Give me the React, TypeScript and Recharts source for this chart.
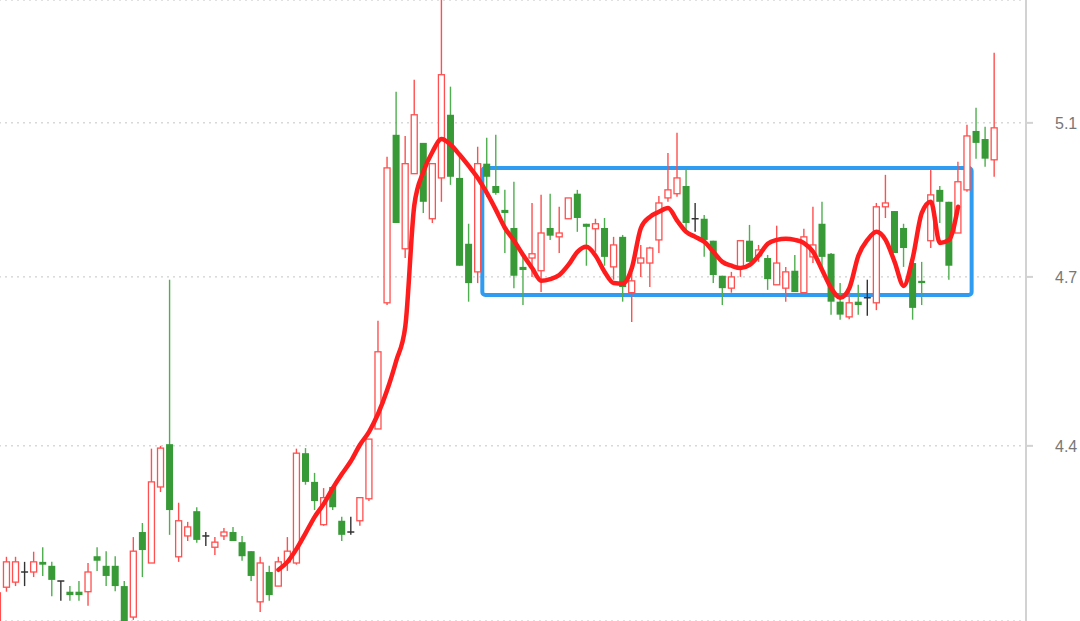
import React from 'react';
import { ComposedChart, Bar, Line, XAxis, YAxis, CartesianGrid, ReferenceArea } from 'recharts';

// Candles, first one (index -1) is cut at the left edge.
const FIRST_INDEX = -1;
const OPEN = [
  4.073, 4.149, 4.158, 4.176, 4.176, 4.194, 4.187, 4.160, 4.141, 4.141,
  4.141, 4.204, 4.187, 4.187, 4.151, 4.096, 4.247, 4.192, 4.327, 4.403,
  4.203, 4.240, 4.284, 4.240, 4.220, 4.240, 4.247, 4.229, 4.213, 4.123,
  4.176, 4.151, 4.194, 4.192, 4.387, 4.336, 4.260, 4.327, 4.267, 4.247,
  4.267, 4.306, 4.430, 4.654, 5.069, 4.773, 4.968, 5.048, 4.851, 4.957,
  5.121, 4.957, 4.786, 4.713, 4.994, 4.936, 4.874, 4.827, 4.726, 4.749,
  4.716, 4.827, 4.804, 4.851, 4.916, 4.838, 4.825, 4.827, 4.726, 4.804,
  4.672, 4.736, 4.736, 4.796, 4.905, 4.916, 4.936, 4.851, 4.851, 4.794,
  4.703, 4.680, 4.726, 4.794, 4.755, 4.749, 4.686, 4.680, 4.716, 4.672,
  4.752, 4.838, 4.760, 4.656, 4.629, 4.656, 4.663, 4.654, 4.882, 4.871,
  4.827, 4.736, 4.693, 4.794, 4.926, 4.895, 4.814, 4.926, 5.079, 5.058,
  5.004,
];
const HIGH = [
  4.148, 4.203, 4.203, 4.194, 4.212, 4.220, 4.194, 4.160, 4.151, 4.160,
  4.192, 4.220, 4.213, 4.204, 4.160, 4.238, 4.263, 4.395, 4.400, 4.695,
  4.299, 4.265, 4.291, 4.247, 4.238, 4.254, 4.256, 4.240, 4.213, 4.203,
  4.187, 4.203, 4.238, 4.395, 4.396, 4.352, 4.325, 4.327, 4.274, 4.274,
  4.308, 4.412, 4.622, 5.012, 5.181, 5.066, 5.212, 5.048, 4.994, 5.430,
  5.194, 5.012, 4.838, 5.038, 5.061, 5.069, 4.926, 4.947, 4.752, 4.892,
  4.913, 4.916, 4.882, 4.905, 4.926, 4.838, 4.851, 4.853, 4.804, 4.809,
  4.710, 4.783, 4.778, 4.910, 5.022, 5.074, 4.981, 4.892, 4.861, 4.794,
  4.703, 4.713, 4.794, 4.835, 4.783, 4.757, 4.833, 4.726, 4.757, 4.825,
  4.882, 4.895, 4.762, 4.689, 4.673, 4.686, 4.695, 4.892, 4.965, 4.871,
  4.838, 4.739, 4.739, 4.978, 4.936, 4.895, 4.999, 5.095, 5.139, 5.090,
  5.282,
];
const LOW = [
  4.055, 4.141, 4.151, 4.151, 4.167, 4.169, 4.133, 4.125, 4.125, 4.125,
  4.116, 4.178, 4.151, 4.142, 4.073, 4.091, 4.167, 4.192, 4.318, 4.242,
  4.194, 4.231, 4.228, 4.222, 4.206, 4.233, 4.231, 4.196, 4.160, 4.105,
  4.125, 4.151, 4.178, 4.189, 4.331, 4.286, 4.258, 4.286, 4.231, 4.242,
  4.258, 4.302, 4.430, 4.650, 4.840, 4.749, 4.968, 4.866, 4.840, 4.895,
  4.939, 4.729, 4.656, 4.689, 4.908, 4.913, 4.762, 4.680, 4.650, 4.700,
  4.673, 4.796, 4.762, 4.851, 4.817, 4.729, 4.765, 4.729, 4.695, 4.656,
  4.620, 4.700, 4.682, 4.762, 4.895, 4.908, 4.822, 4.817, 4.752, 4.689,
  4.650, 4.672, 4.700, 4.739, 4.739, 4.677, 4.686, 4.656, 4.673, 4.672,
  4.736, 4.726, 4.633, 4.624, 4.625, 4.633, 4.631, 4.641, 4.853, 4.762,
  4.726, 4.624, 4.650, 4.775, 4.840, 4.695, 4.814, 4.921, 5.007, 4.986,
  4.960,
];
const CLOSE = [
  4.139, 4.194, 4.194, 4.176, 4.194, 4.189, 4.162, 4.160, 4.135, 4.135,
  4.176, 4.196, 4.169, 4.151, 4.082, 4.213, 4.215, 4.336, 4.396, 4.286,
  4.267, 4.256, 4.233, 4.240, 4.229, 4.247, 4.231, 4.204, 4.169, 4.192,
  4.135, 4.194, 4.213, 4.387, 4.336, 4.302, 4.308, 4.291, 4.242, 4.247,
  4.308, 4.412, 4.567, 4.983, 4.840, 4.994, 5.121, 4.895, 4.994, 5.225,
  4.960, 4.729, 4.689, 4.994, 4.960, 4.918, 4.866, 4.703, 4.718, 4.760,
  4.814, 4.807, 4.814, 4.905, 4.853, 4.830, 4.838, 4.752, 4.783, 4.682,
  4.693, 4.749, 4.775, 4.892, 4.926, 4.957, 4.840, 4.851, 4.796, 4.705,
  4.680, 4.700, 4.794, 4.739, 4.770, 4.696, 4.736, 4.713, 4.673, 4.804,
  4.783, 4.752, 4.656, 4.633, 4.654, 4.650, 4.663, 4.882, 4.892, 4.762,
  4.775, 4.645, 4.689, 4.913, 4.895, 4.729, 4.947, 5.066, 5.048, 5.007,
  5.087,
];

// Hand-drawn red trend curve, from candle index 30 to 105.
const CURVE_START = 30;
const CURVE = [
  4.180, 4.194, 4.217, 4.245, 4.274, 4.297, 4.325, 4.350, 4.373, 4.402,
  4.425, 4.457, 4.499, 4.551, 4.612, 4.887, 4.973, 5.025, 5.058, 5.043,
  5.017, 4.988, 4.957, 4.918, 4.874, 4.827, 4.794, 4.757, 4.723, 4.693,
  4.696, 4.705, 4.731, 4.765, 4.778, 4.755, 4.713, 4.689, 4.688, 4.723,
  4.827, 4.856, 4.869, 4.879, 4.846, 4.817, 4.804, 4.791, 4.765, 4.739,
  4.729, 4.723, 4.731, 4.755, 4.786, 4.796, 4.799, 4.796, 4.788, 4.765,
  4.718, 4.680, 4.663, 4.680, 4.755, 4.796, 4.817, 4.796, 4.739, 4.684,
  4.749, 4.866, 4.895, 4.788, 4.796, 4.882,
];

const TRAILING_EMPTY = 3;
const Y_TICKS = [4.4, 4.7, 5.1];
const Y_DOMAIN: [number, number] = [4.089, 5.419];

// Consolidation box
const BOX_FROM = 53;
const BOX_TO = 106;
const BOX_LOW = 4.668;
const BOX_HIGH = 4.983;

// The source's price axis is compressed above 4.7 relative to below it.
const KNEE = 4.7;
const LOW_STRETCH = 563 / 385;
const warp = (v: number) => (v >= KNEE ? v : KNEE + (v - KNEE) * LOW_STRETCH);
const unwarp = (u: number) => (u >= KNEE ? u : KNEE + (u - KNEE) / LOW_STRETCH);

function warpedScale(): any {
  let dom: number[] = [0, 1];
  let rng: number[] = [0, 1];
  const s: any = (v: any) => {
    const u0 = warp(dom[0]);
    const u1 = warp(dom[dom.length - 1]);
    const r0 = rng[0];
    const r1 = rng[rng.length - 1];
    return r0 + ((warp(Number(v)) - u0) / (u1 - u0)) * (r1 - r0);
  };
  s.domain = (...args: any[]) => {
    if (!args.length) return dom.slice();
    dom = Array.from(args[0] as any[], Number);
    return s;
  };
  s.range = (...args: any[]) => {
    if (!args.length) return rng.slice();
    rng = Array.from(args[0] as any[], Number);
    return s;
  };
  s.invert = (p: number) => {
    const u0 = warp(dom[0]);
    const u1 = warp(dom[dom.length - 1]);
    const r0 = rng[0];
    const r1 = rng[rng.length - 1];
    return unwarp(u0 + ((p - r0) / (r1 - r0)) * (u1 - u0));
  };
  s.copy = () => warpedScale().domain(dom).range(rng);
  s.ticks = () => Y_TICKS.slice();
  s.tickFormat = () => (v: any) => String(v);
  s.nice = () => s;
  s.clamp = () => s;
  return s;
}

const RED = '#ff4f4f';
const GREEN = '#379a37';
const DOJI = '#333333';

const data = (() => {
  const rows: any[] = OPEN.map((o, j) => {
    const i = FIRST_INDEX + j;
    const c = CLOSE[j];
    const lo = Math.min(o, c);
    const hi = Math.max(o, c);
    const ci = i - CURVE_START;
    return {
      i,
      o,
      c,
      wick: [LOW[j], HIGH[j]],
      body: hi - lo < 0.0005 ? [lo - 0.0004, hi + 0.0004] : [lo, hi],
      curve: ci >= 0 && ci < CURVE.length ? CURVE[ci] : null,
    };
  });
  for (let t = 1; t <= TRAILING_EMPTY; t++) {
    rows.push({ i: FIRST_INDEX + OPEN.length - 1 + t, o: null, c: null, wick: null, body: null, curve: null });
  }
  return rows;
})();

const dirOf = (p: any) => (p.c > p.o ? 'up' : p.c < p.o ? 'down' : 'flat');
const colorOf = (p: any) => {
  const d = dirOf(p);
  return d === 'up' ? RED : d === 'down' ? GREEN : DOJI;
};

const WickShape = (props: any) => {
  const { x, y, width, height, payload } = props;
  if (!payload || payload.o == null || x == null || y == null) return null;
  const cx = x + width / 2;
  const top = Math.min(y, y + height);
  const bot = Math.max(y, y + height);
  const d = dirOf(payload);
  const col = d === 'down' ? '#4fae4f' : colorOf(payload);
  return <line x1={cx} x2={cx} y1={top} y2={bot} stroke={col} strokeWidth={1.4} />;
};

const BodyShape = (props: any) => {
  const { x, y, width, height, payload } = props;
  if (!payload || payload.o == null || x == null || y == null) return null;
  const cx = x + width / 2;
  const top = Math.min(y, y + height);
  const h = Math.abs(height);
  const d = dirOf(payload);
  if (d === 'flat') {
    return <line x1={cx - 3.5} x2={cx + 3.5} y1={top + h / 2} y2={top + h / 2} stroke={DOJI} strokeWidth={1.5} />;
  }
  if (d === 'up') {
    return (
      <rect x={cx - 3} y={top} width={6} height={Math.max(h, 1)} fill="#ffffff" stroke={RED} strokeWidth={1.3} />
    );
  }
  return <rect x={cx - 3.5} y={top} width={7} height={Math.max(h, 1.5)} fill={GREEN} />;
};

const BoxShape = (props: any) => {
  const { x, y, width, height } = props;
  if (x == null || y == null) return null;
  return (
    <rect x={x} y={y} width={width} height={height} rx={3} ry={3} fill="none" stroke="#2f9cf2" strokeWidth={4} />
  );
};

export default function App() {
  return (
    <div style={{ position: 'absolute', left: -7, top: 0, width: 1087, height: 621, background: '#ffffff' }}>
      <ComposedChart
        width={1087}
        height={621}
        data={data}
        margin={{ top: 0, right: 0, bottom: 0, left: 0 }}
        barCategoryGap="10%"
      >
        <XAxis xAxisId="a" dataKey="i" hide />
        <XAxis xAxisId="b" dataKey="i" hide />
        <YAxis
          orientation="right"
          type="number"
          domain={Y_DOMAIN}
          allowDataOverflow
          scale={warpedScale()}
          ticks={Y_TICKS}
          interval={0}
          width={54}
          tickSize={7}
          tickMargin={22}
          axisLine={{ stroke: '#d2d2d2', strokeWidth: 2 }}
          tickLine={{ stroke: '#d2d2d2', strokeWidth: 2 }}
          tick={{ fill: '#777777', fontSize: 16, fontFamily: 'Liberation Sans, Arial, sans-serif' }}
        />
        <CartesianGrid xAxisId="a" vertical={false} stroke="#c4c4c4" strokeDasharray="2 4" />
        <Bar xAxisId="a" dataKey="wick" shape={WickShape} isAnimationActive={false} />
        <Bar xAxisId="b" dataKey="body" shape={BodyShape} isAnimationActive={false} />
        <ReferenceArea
          xAxisId="a"
          x1={BOX_FROM}
          x2={BOX_TO}
          y1={BOX_LOW}
          y2={BOX_HIGH}
          ifOverflow="visible"
          shape={BoxShape}
        />
        <Line
          xAxisId="a"
          dataKey="curve"
          type="monotone"
          stroke="#ff1c1c"
          strokeWidth={4.5}
          strokeLinecap="round"
          strokeLinejoin="round"
          dot={false}
          activeDot={false}
          connectNulls={false}
          isAnimationActive={false}
        />
      </ComposedChart>
    </div>
  );
}
